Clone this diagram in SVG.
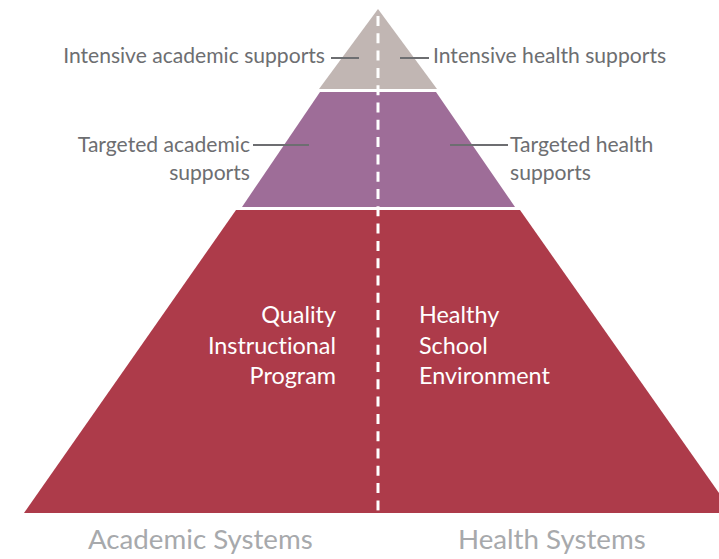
<svg xmlns="http://www.w3.org/2000/svg" width="719" height="559" viewBox="0 0 719 559">
  <style>
    text { font-family: Lato, "Open Sans", "Liberation Sans", sans-serif; font-variant-ligatures: none; }
    .lbl { font-size: 21.1px; fill: #6d6e71; }
    .inner { font-size: 23.4px; fill: #ffffff; }
    .sys { font-size: 27.7px; fill: #a7a9ac; }
    .lead { stroke: #6d6e71; stroke-width: 2; fill: none; }
    .divider { stroke: #ffffff; stroke-width: 3; stroke-dasharray: 10 7.3; fill: none; }
  </style>
  <rect width="719" height="559" fill="#ffffff"/>

  <!-- pyramid tiers -->
  <g id="tier-intensive">
    <polygon points="378,9 437,89 319,89" fill="#c1b6b3"/>
  </g>
  <g id="tier-targeted">
    <polygon points="320,92 436,92 515,207 242,207" fill="#9e6d98"/>
  </g>
  <g id="tier-universal">
    <polygon points="236,210 520,210 733,513 24,513" fill="#ad3b4a"/>
    <text class="inner" x="336" y="323" text-anchor="end">Quality</text>
    <text class="inner" x="336" y="354" text-anchor="end">Instructional</text>
    <text class="inner" x="336" y="384" text-anchor="end">Program</text>
    <text class="inner" x="419" y="323">Healthy</text>
    <text class="inner" x="419" y="354">School</text>
    <text class="inner" x="419" y="384">Environment</text>
  </g>

  <!-- connectors: centre divider and label leaders -->
  <g id="connectors">
    <line class="divider" x1="378" y1="16" x2="378" y2="513"/>
    <line class="lead" x1="331" y1="58" x2="359" y2="58"/>
    <line class="lead" x1="400" y1="58" x2="429" y2="58"/>
    <line class="lead" x1="253" y1="145" x2="309" y2="145"/>
    <line class="lead" x1="450" y1="145" x2="508" y2="145"/>
  </g>

  <g id="label-intensive-academic">
    <text class="lbl" x="325" y="63" text-anchor="end">Intensive academic supports</text>
  </g>
  <g id="label-intensive-health">
    <text class="lbl" x="433" y="63">Intensive health supports</text>
  </g>
  <g id="label-targeted-academic">
    <text class="lbl" x="250" y="152" text-anchor="end">Targeted academic</text>
    <text class="lbl" x="250" y="180" text-anchor="end">supports</text>
  </g>
  <g id="label-targeted-health">
    <text class="lbl" x="510" y="152">Targeted health</text>
    <text class="lbl" x="510" y="180">supports</text>
  </g>

  <g id="axis-academic">
    <text class="sys" x="88" y="549">Academic Systems</text>
  </g>
  <g id="axis-health">
    <text class="sys" x="458" y="549">Health Systems</text>
  </g>
</svg>
